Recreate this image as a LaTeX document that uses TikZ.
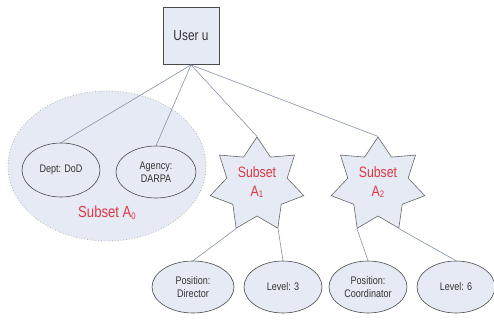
\documentclass[tikz,border=0pt]{standalone}
\usepackage{fontspec}
\setmainfont{Liberation Sans}[FakeStretch=0.82]
\usetikzlibrary{shapes.geometric}
\definecolor{fillblue}{HTML}{E6EAF4}
\definecolor{edgeline}{HTML}{8592A8}
\definecolor{rimgray}{HTML}{4A4A4A}
\definecolor{labelred}{HTML}{DC3845}
\tikzset{
  userbox/.style={draw=rimgray, fill=fillblue, line width=0.8pt, minimum width=56pt, minimum height=57pt, inner sep=0pt, text=black!80, font=\fontsize{14.5}{16}\selectfont},
  attr/.style={ellipse, draw=rimgray, fill=fillblue, line width=0.6pt, inner sep=0pt, align=center, text=black!80, font=\fontsize{11}{13.5}\selectfont},
  groupell/.style={ellipse, draw=black!30, dotted, fill=fillblue, line width=0.8pt, inner sep=0pt, minimum width=198pt, minimum height=150pt},
  subsetstar/.style={star, star points=7, star point ratio=1.55, draw=black!60, fill=fillblue, line width=0.6pt, inner sep=0pt, minimum size=96pt},
  subsetlabel/.style={text=labelred, align=center, font=\fontsize{15}{19}\selectfont},
  link/.style={draw=edgeline, line width=0.6pt}
}
\newcommand{\subidx}[1]{{\fontsize{9.5}{9.5}\selectfont\raisebox{-0.35ex}{#1}}}
\begin{document}
\begin{tikzpicture}[x=1pt,y=-1pt]
  \fill[white] (0,0) rectangle (494,320);
  \useasboundingbox (0,0) rectangle (494,320);

  % root
  \node[userbox] (user) at (191,36) {User u};

  % subset A0: grouped attributes inside a shaded ellipse
  \node[groupell] (a0) at (107,166) {};
  \node[attr, minimum width=78pt, minimum height=54pt] (dept) at (61,170) {Dept: DoD};
  \node[attr, minimum width=80pt, minimum height=52pt] (agency) at (156,172) {Agency:\\DARPA};
  \node[subsetlabel, font=\fontsize{16}{19}\selectfont] (a0lbl) at (107,213) {Subset A\subidx{0}};

  % subsets A1 and A2
  \node[subsetstar] (a1) at (257,185) {};
  \node[subsetlabel] (a1lbl) at (257,182) {Subset\\A\subidx{1}};
  \node[subsetstar] (a2) at (378,185) {};
  \node[subsetlabel] (a2lbl) at (378,182) {Subset\\A\subidx{2}};

  % leaf attributes
  \node[attr, minimum width=82pt, minimum height=52pt] (dir) at (193,287) {Position:\\Director};
  \node[attr, minimum width=78pt, minimum height=52pt] (lv3) at (283,287) {Level: 3};
  \node[attr, minimum width=78pt, minimum height=52pt] (coord) at (368,287) {Position:\\Coordinator};
  \node[attr, minimum width=78pt, minimum height=52pt] (lv6) at (456,287) {Level: 6};

  % connectors
  \draw[link] (user.south) -- (dept.north);
  \draw[link] (user.south) -- (agency.north);
  \draw[link] (user.south) -- (a1.outer point 1);
  \draw[link] (user.south) -- (a2.outer point 1);
  \draw[link] (a1.outer point 4) -- (dir.north);
  \draw[link] (a1.outer point 5) -- (lv3.north);
  \draw[link] (a2.outer point 4) -- (coord.north);
  \draw[link] (a2.outer point 5) -- (lv6.north);
\end{tikzpicture}
\end{document}
